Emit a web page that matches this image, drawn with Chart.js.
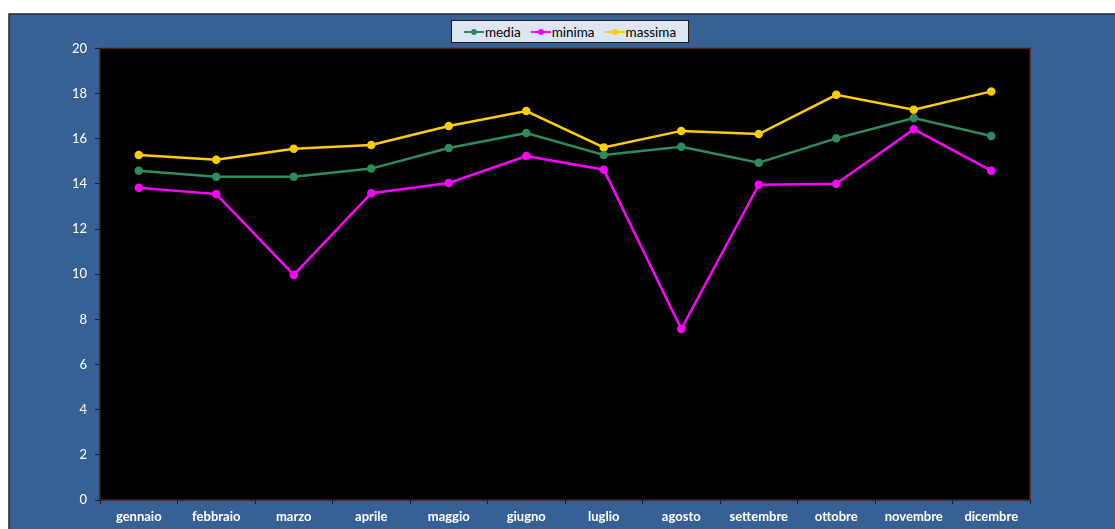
<!DOCTYPE html>
<html>
<head>
<meta charset="utf-8">
<script src="https://cdn.jsdelivr.net/npm/chart.js@4/dist/chart.umd.min.js"></script>
<style>
  html,body{margin:0;padding:0;background:#fff;}
  #wrap{position:relative;width:1115px;height:529px;}
  #legend{position:absolute;left:451px;top:20px;width:236px;height:21px;background:#dce6f2;border:1px solid #1a1a1a;
    font-family:Lato,"Liberation Sans",sans-serif;font-size:13.5px;color:#000;display:flex;align-items:center;justify-content:center;gap:10px;}
  #legend span.item{display:flex;align-items:center;}
  #legend .sym{position:relative;width:20px;height:8px;margin-right:1px;}
  #legend .sym i{position:absolute;left:0;top:3px;width:20px;height:2.5px;}
  #legend .sym b{position:absolute;left:7px;top:1px;width:6px;height:6px;border-radius:50%;}
</style>
</head>
<body>
<div id="wrap">
  <canvas id="myChart" width="1115" height="529"></canvas>
  <div id="legend"></div>
</div>
<script>
var mesi=['gennaio','febbraio','marzo','aprile','maggio','giugno','luglio','agosto','settembre','ottobre','novembre','dicembre'];
var media=[14.59,14.32,14.32,14.68,15.59,16.26,15.28,15.65,14.94,16.02,16.92,16.12];
var minima=[13.83,13.55,9.97,13.59,14.04,15.24,14.63,7.57,13.97,14.01,16.42,14.59];
var massima=[15.28,15.07,15.56,15.73,16.57,17.23,15.62,16.35,16.21,17.95,17.29,18.1];
var nomi=['media','minima','massima'];
var colori=['#2e8b5c','#ff00ff','#ffcc00'];

// sfondo blu e area nera
var sfondo={
  id:'sfondo',
  beforeDraw(chart){
    var c=chart.ctx, a=chart.chartArea;
    c.save();
    c.fillStyle='#fff';
    c.fillRect(0,0,chart.width,chart.height);
    c.fillStyle='#376194';
    c.fillRect(9,14,chart.width-9,chart.height-14);
    c.strokeStyle='#1c2a3a';
    c.lineWidth=1.5;
    c.strokeRect(9,14,chart.width,chart.height);
    c.fillStyle='#000';
    c.fillRect(a.left,a.top,a.right-a.left,a.bottom-a.top);
    c.restore();
  },
  afterDatasetsDraw(chart){
    var c=chart.ctx, a=chart.chartArea;
    c.save();
    c.strokeStyle='#4a1c1c';
    c.lineWidth=1.5;
    c.strokeRect(a.left,a.top,a.right-a.left,a.bottom-a.top);
    c.restore();
  }
};

var ds=[media,minima,massima].map(function(d,i){
  return {label:nomi[i],data:d,borderColor:colori[i],backgroundColor:colori[i],
    borderWidth:2.5,pointRadius:3,pointHoverRadius:3,tension:0};
});

var ctx=document.getElementById('myChart').getContext('2d');
var myChart=new Chart(ctx,{
  type:'line',
  data:{labels:mesi,datasets:ds},
  options:{
    responsive:false,
    animation:false,
    layout:{padding:{left:0,top:48.5,right:85,bottom:0}},
    plugins:{legend:{display:false},tooltip:{enabled:false}},
    scales:{
      x:{
        offset:true,
        grid:{offset:true,drawOnChartArea:false,tickLength:4,color:'#1a1a2a'},
        border:{display:false},
        ticks:{color:'#ffffff',font:{family:'Lato',size:13,weight:'bold'},padding:5,maxRotation:0},
        afterFit(s){s.height=29;}
      },
      y:{
        min:0,max:20,
        grid:{drawOnChartArea:false,tickLength:5,color:'#1a1a2a'},
        border:{display:false},
        ticks:{stepSize:2,color:'#ffffff',font:{family:'Lato',size:13},padding:8},
        afterFit(s){s.width=100;}
      }
    }
  },
  plugins:[sfondo]
});

// legenda html
var leg=document.getElementById('legend');
nomi.forEach(function(n,i){
  var s=document.createElement('span');
  s.className='item';
  s.innerHTML='<span class="sym"><i style="background:'+colori[i]+'"></i><b style="background:'+colori[i]+'"></b></span>'+n;
  leg.appendChild(s);
});
</script>
</body>
</html>
